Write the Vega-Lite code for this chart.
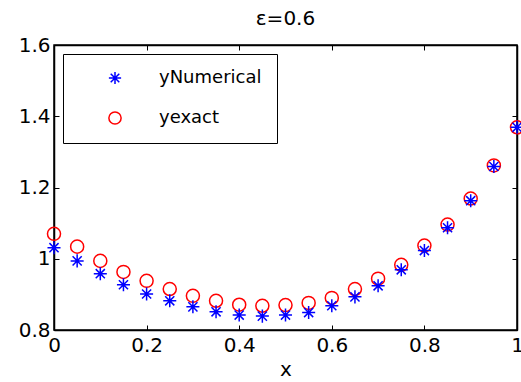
{
  "$schema": "https://vega.github.io/schema/vega-lite/v6.json",
  "width": 463,
  "height": 285,
  "autosize": {"type": "none"},
  "padding": {"left": 54, "top": 45, "right": 4, "bottom": 52},
  "background": "white",
  "title": {"text": "ε=0.6", "fontSize": 20, "fontWeight": "normal", "font": "DejaVu Sans", "offset": 6, "color": "black"},
  "config": {
    "view": {"stroke": "black", "strokeWidth": 1.5},
    "font": "DejaVu Sans",
    "axis": {
      "grid": false,
      "domainColor": "black",
      "domainWidth": 1.5,
      "tickColor": "black",
      "tickSize": -5,
      "labelFlush": false,
      "labelFontSize": 20,
      "labelColor": "black",
      "labelFont": "DejaVu Sans",
      "titleFontSize": 20,
      "titleFontWeight": "normal",
      "titleColor": "black",
      "titleFont": "DejaVu Sans"
    }
  },
  "data": {
    "values": [
      {"x": 0, "series": "exact", "y": 1.070},
      {"x": 0.05, "series": "exact", "y": 1.034},
      {"x": 0.1, "series": "exact", "y": 0.994},
      {"x": 0.15, "series": "exact", "y": 0.963},
      {"x": 0.2, "series": "exact", "y": 0.938},
      {"x": 0.25, "series": "exact", "y": 0.915},
      {"x": 0.3, "series": "exact", "y": 0.896},
      {"x": 0.35, "series": "exact", "y": 0.882},
      {"x": 0.4, "series": "exact", "y": 0.871},
      {"x": 0.45, "series": "exact", "y": 0.868},
      {"x": 0.5, "series": "exact", "y": 0.870},
      {"x": 0.55, "series": "exact", "y": 0.876},
      {"x": 0.6, "series": "exact", "y": 0.890},
      {"x": 0.65, "series": "exact", "y": 0.915},
      {"x": 0.7, "series": "exact", "y": 0.944},
      {"x": 0.75, "series": "exact", "y": 0.983},
      {"x": 0.8, "series": "exact", "y": 1.037},
      {"x": 0.85, "series": "exact", "y": 1.096},
      {"x": 0.9, "series": "exact", "y": 1.169},
      {"x": 0.95, "series": "exact", "y": 1.262},
      {"x": 1, "series": "exact", "y": 1.369},
      {"x": 0, "series": "Numerical", "y": 1.031},
      {"x": 0.05, "series": "Numerical", "y": 0.994},
      {"x": 0.1, "series": "Numerical", "y": 0.958},
      {"x": 0.15, "series": "Numerical", "y": 0.927},
      {"x": 0.2, "series": "Numerical", "y": 0.901},
      {"x": 0.25, "series": "Numerical", "y": 0.882},
      {"x": 0.3, "series": "Numerical", "y": 0.865},
      {"x": 0.35, "series": "Numerical", "y": 0.851},
      {"x": 0.4, "series": "Numerical", "y": 0.842},
      {"x": 0.45, "series": "Numerical", "y": 0.839},
      {"x": 0.5, "series": "Numerical", "y": 0.842},
      {"x": 0.55, "series": "Numerical", "y": 0.849},
      {"x": 0.6, "series": "Numerical", "y": 0.868},
      {"x": 0.65, "series": "Numerical", "y": 0.893},
      {"x": 0.7, "series": "Numerical", "y": 0.924},
      {"x": 0.75, "series": "Numerical", "y": 0.969},
      {"x": 0.8, "series": "Numerical", "y": 1.023},
      {"x": 0.85, "series": "Numerical", "y": 1.087},
      {"x": 0.9, "series": "Numerical", "y": 1.163},
      {"x": 0.95, "series": "Numerical", "y": 1.259},
      {"x": 1, "series": "Numerical", "y": 1.369}
    ]
  },
  "layer": [
    {
      "mark": {"type": "point", "filled": false, "strokeWidth": 1.5, "size": 170, "opacity": 1},
      "encoding": {
        "x": {
          "field": "x", "type": "quantitative",
          "scale": {"domain": [0, 1], "nice": false},
          "axis": {"values": [0, 0.2, 0.4, 0.6, 0.8, 1], "format": "~g", "title": "x", "labelPadding": 10, "titlePadding": 4}
        },
        "y": {
          "field": "y", "type": "quantitative",
          "scale": {"domain": [0.8, 1.6], "nice": false, "zero": false},
          "axis": {"values": [0.8, 1, 1.2, 1.4, 1.6], "format": "~g", "title": null, "labelPadding": 9}
        },
        "color": {
          "field": "series", "type": "nominal",
          "scale": {"domain": ["Numerical", "exact"], "range": ["#0000ff", "#ff0000"]},
          "legend": {
            "orient": "top-left",
            "offset": 9,
            "title": null,
            "strokeColor": "black",
            "fillColor": "white",
            "padding": 15,
            "rowPadding": 20,
            "symbolOffset": 28,
            "labelOffset": 35,
            "labelFontSize": 18,
            "labelFont": "DejaVu Sans",
            "labelColor": "black",
            "symbolSize": 150,
            "symbolStrokeWidth": 1.5,
            "labelExpr": "'y' + datum.label"
          }
        },
        "shape": {
          "field": "series", "type": "nominal",
          "scale": {"domain": ["Numerical", "exact"], "range": ["M-1,0L1,0M0,-1L0,1M-0.7,-0.7L0.7,0.7M-0.7,0.7L0.7,-0.7", "circle"]}
        }
      }
    },
    {
      "mark": {"type": "point", "opacity": 0},
      "encoding": {
        "x": {"field": "x", "type": "quantitative", "axis": {"orient": "top", "labels": false, "title": null, "values": [0, 0.2, 0.4, 0.6, 0.8, 1]}},
        "y": {"field": "y", "type": "quantitative", "axis": {"orient": "right", "labels": false, "title": null, "values": [0.8, 1, 1.2, 1.4, 1.6]}}
      }
    }
  ],
  "resolve": {"axis": {"x": "independent", "y": "independent"}}
}
